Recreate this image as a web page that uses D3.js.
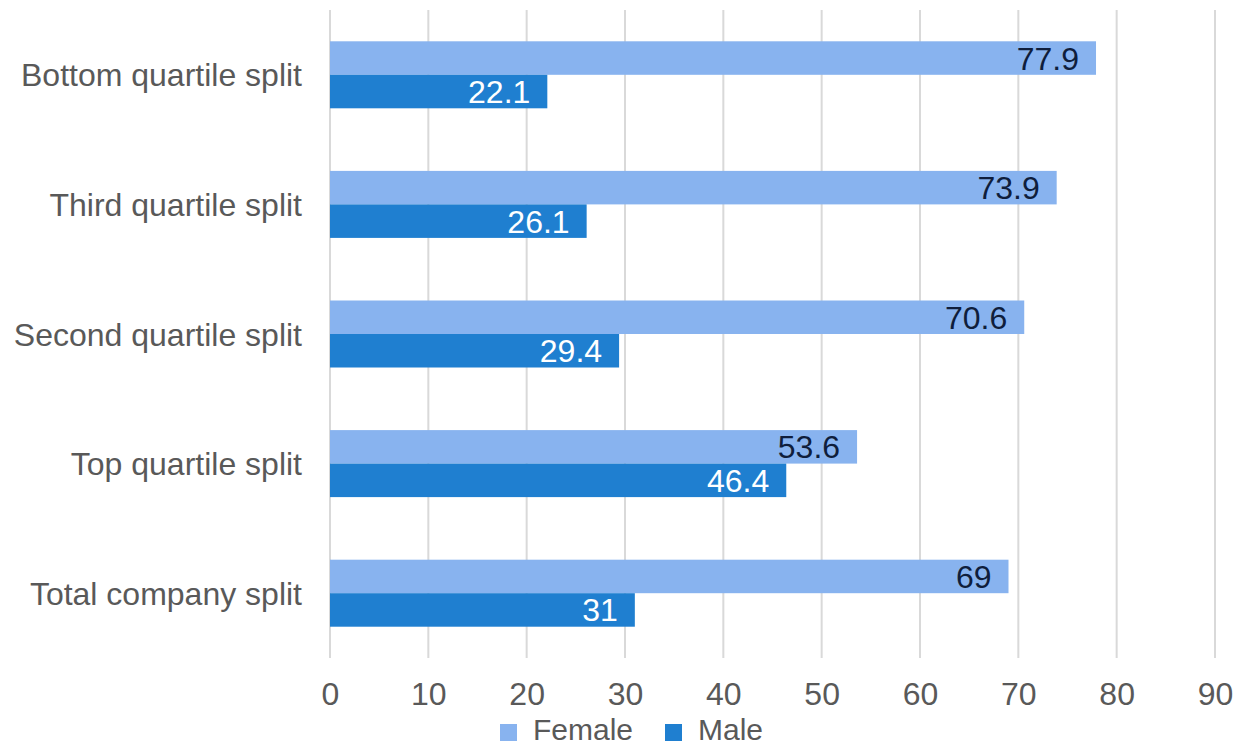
<!DOCTYPE html>
<html>
<head>
<meta charset="utf-8">
<script src="https://cdn.jsdelivr.net/npm/d3@7"></script>
<style>
  body { margin: 0; background: #fff; }
  text { font-family: "Liberation Sans", Arial, sans-serif; }
</style>
</head>
<body>
<div id="chart"></div>
<script>
// chart data, top category first
var categories = ["Bottom quartile split", "Third quartile split", "Second quartile split", "Top quartile split", "Total company split"];
var femaleValues = [77.9, 73.9, 70.6, 53.6, 69];
var maleValues = [22.1, 26.1, 29.4, 46.4, 31];
var seriesNames = ["Female", "Male"];
var tickValues = [0, 10, 20, 30, 40, 50, 60, 70, 80, 90];

var width = 1247, height = 747;
var colors = { Female: "#88b3ef", Male: "#1f7fd0" };
var labelColors = { Female: "#0f1e3c", Male: "#ffffff" };
var fontSize = "32px";

var svg = d3.select("#chart").append("svg")
  .attr("width", width)
  .attr("height", height);

var plot = { left: 330, right: 1215, top: 10, bottom: 658 };

var x = d3.scaleLinear().domain([0, 90]).range([plot.left, plot.right]);
var y = d3.scaleBand().domain(categories).range([plot.top, plot.bottom])
  .paddingInner(0.483).paddingOuter(0.2415);
var ySub = d3.scaleBand().domain(seriesNames).range([0, y.bandwidth()]);

// gridlines
svg.append("g").selectAll("line")
  .data(tickValues)
  .enter().append("line")
  .attr("x1", function(d){ return x(d); })
  .attr("x2", function(d){ return x(d); })
  .attr("y1", plot.top)
  .attr("y2", plot.bottom)
  .attr("stroke", "#d9d9d9")
  .attr("stroke-width", 2);

// x axis tick labels
var xAxis = svg.append("g")
  .attr("transform", "translate(0," + 705 + ")")
  .call(d3.axisBottom(x).tickValues(tickValues).tickSize(0).tickPadding(0));
xAxis.select(".domain").remove();
xAxis.selectAll("text")
  .attr("y", 0)
  .attr("dy", 0)
  .attr("fill", "#595959")
  .style("font-size", fontSize);

// category labels
svg.append("g").selectAll("text")
  .data(categories)
  .enter().append("text")
  .attr("x", 302)
  .attr("y", function(d){ return y(d) + y.bandwidth() / 2; })
  .attr("dy", "0.36em")
  .attr("text-anchor", "end")
  .attr("fill", "#595959")
  .style("font-size", fontSize)
  .text(function(d){ return d; });

var rows = categories.map(function(c, i){
  return [
    { cat: c, series: "Female", value: femaleValues[i] },
    { cat: c, series: "Male", value: maleValues[i] }
  ];
});
var bars = d3.merge(rows);

svg.append("g").selectAll("rect")
  .data(bars)
  .enter().append("rect")
  .attr("x", x(0))
  .attr("y", function(d){ return y(d.cat) + ySub(d.series); })
  .attr("width", function(d){ return x(d.value) - x(0); })
  .attr("height", ySub.bandwidth())
  .attr("fill", function(d){ return colors[d.series]; });

svg.append("g").selectAll("text")
  .data(bars)
  .enter().append("text")
  .attr("x", function(d){ return x(d.value) - 17; })
  .attr("y", function(d){ return y(d.cat) + ySub(d.series) + ySub.bandwidth() / 2; })
  .attr("dy", "0.36em")
  .attr("text-anchor", "end")
  .attr("fill", function(d){ return labelColors[d.series]; })
  .style("font-size", fontSize)
  .text(function(d){ return d.value; });

// legend (kept just inside the bottom edge)
var legendX = [500, 665];
var legend = svg.append("g").selectAll("g")
  .data(seriesNames)
  .enter().append("g")
  .attr("transform", function(d, i){ return "translate(" + legendX[i] + ",724)"; });
legend.append("rect")
  .attr("width", 17)
  .attr("height", 17)
  .attr("fill", function(d){ return colors[d]; });
legend.append("text")
  .attr("x", 33)
  .attr("y", 16)
  .attr("fill", "#595959")
  .style("font-size", "30px")
  .text(function(d){ return d; });
</script>
</body>
</html>
